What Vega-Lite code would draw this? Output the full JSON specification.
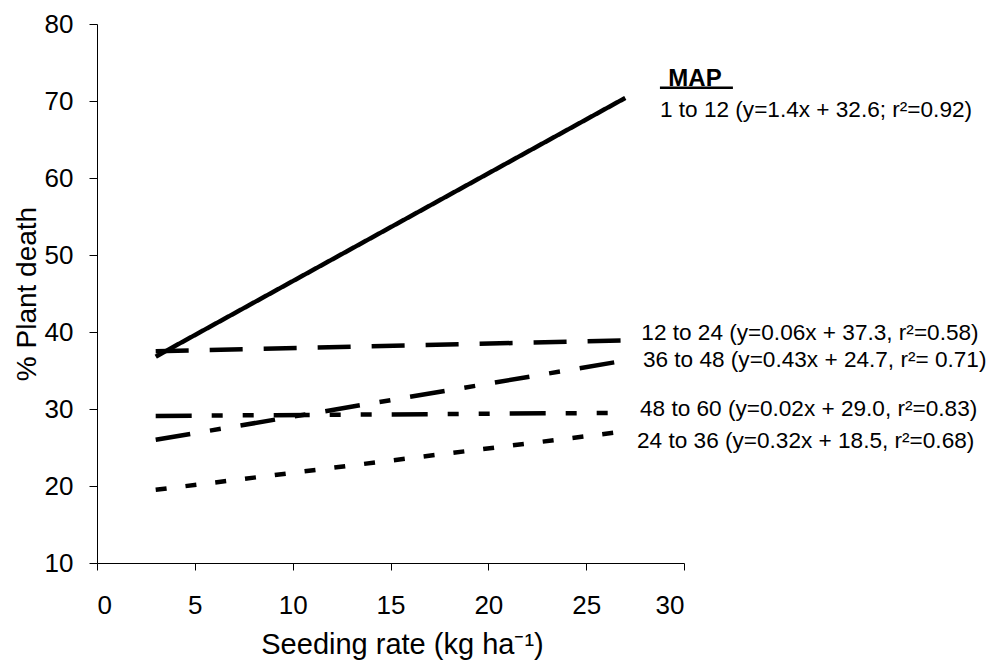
{
  "$schema": "https://vega.github.io/schema/vega-lite/v6.json",
  "autosize": {"type": "none"},
  "width": 587,
  "height": 539,
  "padding": {"left": 97, "top": 24, "right": 304, "bottom": 101},
  "background": "white",
  "config": {
    "view": {"stroke": null},
    "font": "Liberation Sans",
    "axis": {
      "grid": false,
      "domainColor": "black",
      "tickColor": "black",
      "labelColor": "black",
      "titleColor": "black",
      "labelFont": "Liberation Sans",
      "titleFont": "Liberation Sans",
      "labelFontSize": 26,
      "titleFontSize": 28,
      "titleFontWeight": "normal"
    }
  },
  "datasets": {
    "lines": [
      {"series": "1 to 12", "rate": 3, "death": 36.8},
      {"series": "1 to 12", "rate": 27, "death": 70.4},
      {"series": "12 to 24", "rate": 3, "death": 37.5},
      {"series": "12 to 24", "rate": 27, "death": 38.9},
      {"series": "36 to 48", "rate": 3, "death": 26.0},
      {"series": "36 to 48", "rate": 27, "death": 36.3},
      {"series": "48 to 60", "rate": 3, "death": 29.1},
      {"series": "48 to 60", "rate": 27, "death": 29.5},
      {"series": "24 to 36", "rate": 3, "death": 19.5},
      {"series": "24 to 36", "rate": 27, "death": 27.1}
    ],
    "heading": [
      {"label": "MAP", "lx": 29.2, "ly": 71.99}
    ],
    "labels": [
      {"label": "1 to 12 (y=1.4x + 32.6; r²=0.92)", "lx": 28.77, "ly": 67.96},
      {"label": "12 to 24 (y=0.06x + 37.3, r²=0.58)", "lx": 27.82, "ly": 38.96},
      {"label": "36 to 48 (y=0.43x + 24.7, r²= 0.71)", "lx": 27.9, "ly": 35.45},
      {"label": "48 to 60 (y=0.02x + 29.0, r²=0.83)", "lx": 27.75, "ly": 29.09},
      {"label": "24 to 36 (y=0.32x + 18.5, r²=0.68)", "lx": 27.6, "ly": 24.94}
    ],
    "underline": [
      {"ux": 28.77, "ux2": 32.5, "uy": 71.73}
    ]
  },
  "layer": [
    {
      "data": {"name": "lines"},
      "mark": {"type": "line", "color": "black", "strokeWidth": 4.5, "strokeCap": "butt"},
      "encoding": {
        "x": {
          "field": "rate", "type": "quantitative",
          "scale": {"domain": [0, 30], "nice": false},
          "axis": {"values": [0, 5, 10, 15, 20, 25, 30], "title": "Seeding rate (kg ha⁻¹)", "titleFontSize": 29, "titleX": 305, "titleAlign": "center", "tickSize": 7, "labelPadding": 22, "titlePadding": 12}
        },
        "y": {
          "field": "death", "type": "quantitative",
          "scale": {"domain": [10, 80], "nice": false, "zero": false},
          "axis": {"values": [10, 20, 30, 40, 50, 60, 70, 80], "title": "% Plant death", "tickSize": 8, "labelPadding": 16, "titlePadding": 3}
        },
        "detail": {"field": "series"},
        "strokeDash": {
          "field": "series", "type": "nominal",
          "scale": {
            "domain": ["1 to 12", "12 to 24", "36 to 48", "48 to 60", "24 to 36"],
            "range": [[1, 0], [33, 21], [35, 20, 11, 20], [36, 20, 11, 20, 11, 20], [11, 19]]
          },
          "legend": null
        }
      }
    },
    {
      "data": {"name": "labels"},
      "mark": {"type": "text", "align": "left", "baseline": "alphabetic", "fontSize": 22.6, "color": "black", "font": "Liberation Sans"},
      "encoding": {
        "x": {"field": "lx", "type": "quantitative"},
        "y": {"field": "ly", "type": "quantitative"},
        "text": {"field": "label"}
      }
    },
    {
      "data": {"name": "heading"},
      "mark": {"type": "text", "align": "left", "baseline": "alphabetic", "fontSize": 24, "fontWeight": "bold", "color": "black", "font": "Liberation Sans"},
      "encoding": {
        "x": {"field": "lx", "type": "quantitative"},
        "y": {"field": "ly", "type": "quantitative"},
        "text": {"field": "label"}
      }
    },
    {
      "data": {"name": "underline"},
      "mark": {"type": "rule", "color": "black", "strokeWidth": 2.5},
      "encoding": {
        "x": {"field": "ux", "type": "quantitative"},
        "x2": {"field": "ux2"},
        "y": {"field": "uy", "type": "quantitative"}
      }
    }
  ]
}
